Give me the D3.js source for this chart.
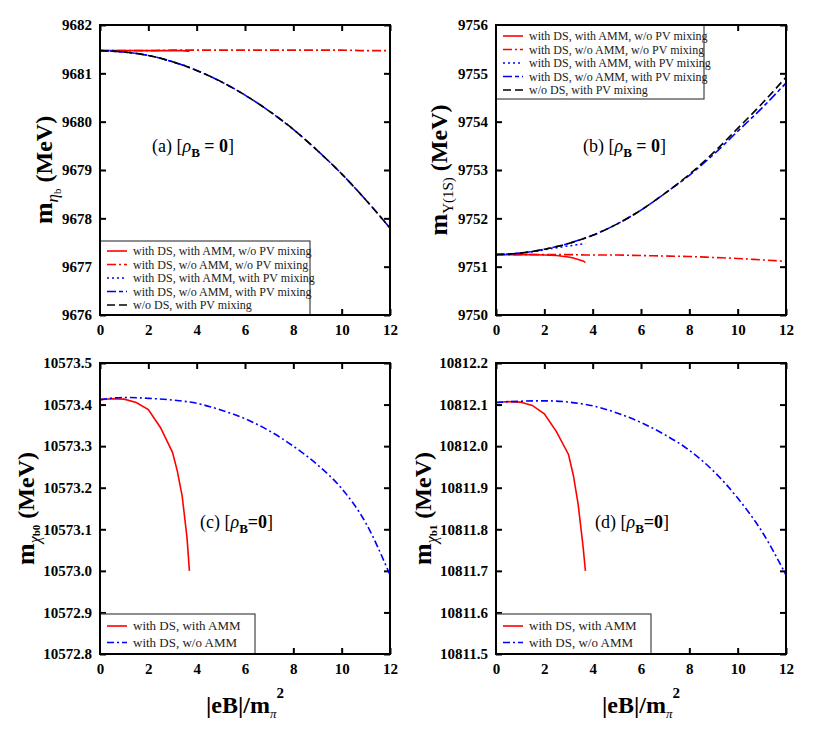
<!DOCTYPE html>
<html>
<head>
<meta charset="utf-8">
<script src="https://cdn.jsdelivr.net/npm/d3@7"></script>
<style>
  body { margin: 0; background: #fff; }
  svg { display: block; font-family: "Liberation Serif", "Times New Roman", serif; }
</style>
</head>
<body>
<svg width="830" height="755"></svg>
<script>
// x grids (|eB|/m_pi^2)
const xTicks = [0, 2, 4, 6, 8, 10, 12];
const xFull = [0, 1, 2, 3, 4, 5, 6, 7, 8, 9, 10, 11, 12];
const xAmm = [0, 0.5, 1, 1.5, 2, 2.5, 3, 3.2, 3.4, 3.6, 3.7];

// (a) eta_b
const etaAmmNoPV   = [9681.47, 9681.47, 9681.47, 9681.47, 9681.47, 9681.47, 9681.47, 9681.47, 9681.47, 9681.46, 9681.46];
const etaNoAmmNoPV = [9681.47, 9681.47, 9681.47, 9681.48, 9681.48, 9681.48, 9681.48, 9681.48, 9681.48, 9681.48, 9681.48, 9681.47, 9681.47];
const etaAmmPV     = [9681.47, 9681.46, 9681.44, 9681.41, 9681.37, 9681.31, 9681.24, 9681.21, 9681.18, 9681.14, 9681.12];
const etaNoAmmPV   = [9681.47, 9681.44, 9681.37, 9681.24, 9681.06, 9680.83, 9680.55, 9680.22, 9679.84, 9679.40, 9678.92, 9678.38, 9677.80];
const etaNoDsPV    = [9681.47, 9681.44, 9681.37, 9681.24, 9681.06, 9680.83, 9680.55, 9680.22, 9679.84, 9679.40, 9678.92, 9678.38, 9677.80];

// (b) Upsilon(1S)
const upsAmmNoPV   = [9751.25, 9751.25, 9751.25, 9751.25, 9751.24, 9751.23, 9751.20, 9751.18, 9751.15, 9751.12, 9751.09];
const upsNoAmmNoPV = [9751.25, 9751.25, 9751.25, 9751.25, 9751.24, 9751.24, 9751.23, 9751.22, 9751.21, 9751.19, 9751.17, 9751.14, 9751.11];
const upsAmmPV     = [9751.25, 9751.26, 9751.28, 9751.31, 9751.35, 9751.39, 9751.43, 9751.44, 9751.46, 9751.47, 9751.48];
const upsNoAmmPV   = [9751.25, 9751.28, 9751.36, 9751.48, 9751.65, 9751.88, 9752.17, 9752.52, 9752.89, 9753.32, 9753.80, 9754.28, 9754.80];
const upsNoDsPV    = [9751.25, 9751.28, 9751.36, 9751.48, 9751.65, 9751.88, 9752.17, 9752.52, 9752.91, 9753.36, 9753.86, 9754.37, 9754.92];

// (c) chi_b0
const chib0Amm   = [10573.412, 10573.414, 10573.413, 10573.405, 10573.388, 10573.345, 10573.285, 10573.240, 10573.180, 10573.080, 10573.000];
const chib0NoAmm = [10573.412, 10573.417, 10573.415, 10573.411, 10573.403, 10573.387, 10573.366, 10573.337, 10573.300, 10573.255, 10573.198, 10573.115, 10572.990];

// (d) chi_b1
const chib1Amm   = [10812.105, 10812.107, 10812.106, 10812.098, 10812.078, 10812.035, 10811.980, 10811.930, 10811.860, 10811.760, 10811.700];
const chib1NoAmm = [10812.105, 10812.108, 10812.109, 10812.106, 10812.097, 10812.080, 10812.057, 10812.027, 10811.990, 10811.940, 10811.875, 10811.795, 10811.690];

const legendTop = ["with DS, with AMM, w/o PV mixing", "with DS, w/o AMM, w/o PV mixing",
                   "with DS, with AMM, with PV mixing", "with DS, w/o AMM, with PV mixing",
                   "w/o DS, with PV mixing"];
const legendBottom = ["with DS, with AMM", "with DS, w/o AMM"];

const yTicksA = [9676, 9677, 9678, 9679, 9680, 9681, 9682];
const yTicksB = [9750, 9751, 9752, 9753, 9754, 9755, 9756];
const yTicksC = [10572.8, 10572.9, 10573.0, 10573.1, 10573.2, 10573.3, 10573.4, 10573.5];
const yTicksD = [10811.5, 10811.6, 10811.7, 10811.8, 10811.9, 10812.0, 10812.1, 10812.2];

// line styles
const sSolidRed = { color: "#ff0000", dash: null, smooth: false };
const sDashDotRed = { color: "#ff0000", dash: "9,3,2,3", smooth: true };
const sDotBlue = { color: "#0000ff", dash: "2,3", smooth: true };
const sDashBlue = { color: "#0000ff", dash: "9,3,4,3", smooth: true };
const sDashDotBlue = { color: "#0000ff", dash: "7,3,2,3", smooth: true };
const sDashBlack = { color: "#000000", dash: "8,4", smooth: true };

const svg = d3.select("svg");
const W = 290;

const panels = [
  { left: 100, top: 25, h: 290, yTicks: yTicksA, fmt: d3.format("d"),
    series: [[xAmm, etaAmmNoPV, sSolidRed], [xFull, etaNoAmmNoPV, sDashDotRed], [xAmm, etaAmmPV, sDotBlue],
             [xFull, etaNoAmmPV, sDashBlue], [xFull, etaNoDsPV, sDashBlack]],
    legend: { x: 0, y: 216, w: 210, h: 74, names: legendTop, styles: [sSolidRed, sDashDotRed, sDotBlue, sDashBlue, sDashBlack], fs: 12, step: 13.5, first: 10 },
    title: ["(a) [", "ρ", "B", " = 0", "]"], tx: 52, ty: 127,
    ylab: { x: 52, parts: [["m", 26, "bold", "normal", 0], ["η", 17, "normal", "italic", 6], ["b", 11, "normal", "normal", 3], [" (MeV)", 24, "bold", "normal", -9]] } },
  { left: 496, top: 25, h: 290, yTicks: yTicksB, fmt: d3.format("d"),
    series: [[xAmm, upsAmmNoPV, sSolidRed], [xFull, upsNoAmmNoPV, sDashDotRed], [xAmm, upsAmmPV, sDotBlue],
             [xFull, upsNoAmmPV, sDashBlue], [xFull, upsNoDsPV, sDashBlack]],
    legend: { x: 0, y: 0, w: 208, h: 74, names: legendTop, styles: [sSolidRed, sDashDotRed, sDotBlue, sDashBlue, sDashBlack], fs: 12, step: 13.5, first: 11 },
    title: ["(b) [", "ρ", "B", " = 0", "]"], tx: 87, ty: 127,
    ylab: { x: 447, parts: [["m", 26, "bold", "normal", 0], ["Υ(1S)", 15, "normal", "normal", 6], [" (MeV)", 24, "bold", "normal", -6]] } },
  { left: 100, top: 363, h: 291, yTicks: yTicksC, fmt: d3.format(".1f"),
    series: [[xAmm, chib0Amm, sSolidRed], [xFull, chib0NoAmm, sDashDotBlue]],
    legend: { x: 0, y: 251, w: 155, h: 40, names: legendBottom, styles: [sSolidRed, sDashDotBlue], fs: 13, step: 16.5, first: 12 },
    title: ["(c) [", "ρ", "B", "=0", "]"], tx: 100, ty: 165,
    ylab: { x: 34, parts: [["m", 26, "bold", "normal", 0], ["χ", 16, "normal", "italic", 6], ["b0", 11, "bold", "normal", 0], [" (MeV)", 24, "bold", "normal", -6]] } },
  { left: 496, top: 363, h: 291, yTicks: yTicksD, fmt: d3.format(".1f"),
    series: [[xAmm, chib1Amm, sSolidRed], [xFull, chib1NoAmm, sDashDotBlue]],
    legend: { x: 0, y: 251, w: 155, h: 40, names: legendBottom, styles: [sSolidRed, sDashDotBlue], fs: 13, step: 16.5, first: 12 },
    title: ["(d) [", "ρ", "B", "=0", "]"], tx: 99, ty: 165,
    ylab: { x: 431, parts: [["m", 26, "bold", "normal", 0], ["χ", 16, "normal", "italic", 6], ["b1", 11, "bold", "normal", 0], [" (MeV)", 24, "bold", "normal", -6]] } }
];

panels.forEach(p => {
  const g = svg.append("g").attr("transform", `translate(${p.left},${p.top})`);
  const x = d3.scaleLinear().domain([0, 12]).range([0, W]);
  const y = d3.scaleLinear().domain(d3.extent(p.yTicks)).range([p.h, 0]);

  const bottom = g.append("g").attr("transform", `translate(0,${p.h})`)
    .call(d3.axisBottom(x).tickValues(xTicks).tickSize(-6).tickPadding(9).tickFormat(d3.format("d")));
  const top = g.append("g").call(d3.axisTop(x).tickValues(xTicks).tickSize(-6).tickFormat(""));
  const left = g.append("g").call(d3.axisLeft(y).tickValues(p.yTicks).tickSize(-6).tickPadding(8).tickFormat(p.fmt));
  const right = g.append("g").attr("transform", `translate(${W},0)`)
    .call(d3.axisRight(y).tickValues(p.yTicks).tickSize(-6).tickFormat(""));
  [bottom, top, left, right].forEach(a => {
    a.attr("font-family", "Liberation Serif, Times New Roman, serif");
    a.select(".domain").remove();
    a.selectAll("line").attr("stroke", "#000").attr("stroke-width", 2);
    a.selectAll("text").attr("font-weight", "bold").attr("font-size", 15).attr("fill", "#000");
  });

  const clip = "clip" + p.left + p.top;
  g.append("clipPath").attr("id", clip).append("rect").attr("width", W).attr("height", p.h);

  p.series.forEach(([xs, ys, s]) => {
    const line = d3.line().x(d => x(d[0])).y(d => y(d[1]))
      .curve(s.smooth ? d3.curveMonotoneX : d3.curveLinear);
    g.append("path")
      .datum(xs.map((v, i) => [v, ys[i]]))
      .attr("clip-path", `url(#${clip})`)
      .attr("fill", "none")
      .attr("stroke", s.color)
      .attr("stroke-width", 1.6)
      .attr("stroke-dasharray", s.dash)
      .attr("d", line);
  });

  // legend
  const L = p.legend;
  const lg = g.append("g").attr("transform", `translate(${L.x},${L.y})`);
  lg.append("rect").attr("width", L.w).attr("height", L.h)
    .attr("fill", "#fff").attr("stroke", "#444").attr("stroke-width", 1.2);
  L.names.forEach((n, i) => {
    const yy = L.first + i * L.step;
    lg.append("line").attr("x1", 7).attr("x2", 27).attr("y1", yy).attr("y2", yy)
      .attr("stroke", L.styles[i].color).attr("stroke-width", 1.6)
      .attr("stroke-dasharray", L.styles[i].dash);
    lg.append("text").attr("x", 33).attr("y", yy + 4).attr("font-size", L.fs).attr("fill", "#222").text(n);
  });

  // frame
  g.append("rect").attr("width", W).attr("height", p.h)
    .attr("fill", "none").attr("stroke", "#000").attr("stroke-width", 2);

  // panel annotation
  const t = g.append("text").attr("x", p.tx).attr("y", p.ty).attr("font-size", 18).attr("fill", "#000");
  t.append("tspan").text(p.title[0]);
  t.append("tspan").attr("font-style", "italic").text(p.title[1]);
  t.append("tspan").attr("font-weight", "bold").attr("font-size", 13).attr("dy", 5).text(p.title[2]);
  t.append("tspan").attr("font-weight", "bold").attr("dy", -5).text(p.title[3]);
  t.append("tspan").text(p.title[4]);

  // y label (rotated)
  const cy = p.top + p.h / 2;
  const yl = svg.append("text")
    .attr("transform", `translate(${p.ylab.x},${cy}) rotate(-90)`)
    .attr("text-anchor", "middle").attr("fill", "#000");
  p.ylab.parts.forEach(([txt, fs, fw, fst, dy]) => {
    yl.append("tspan").attr("font-size", fs).attr("font-weight", fw).attr("font-style", fst)
      .attr("dy", dy).text(txt);
  });

  // x label under bottom panels
  if (p.top > 100) {
    const xl = svg.append("text").attr("x", p.left + W / 2).attr("y", 713)
      .attr("text-anchor", "middle").attr("font-weight", "bold").attr("fill", "#000");
    xl.append("tspan").attr("font-size", 24).text("|eB|/m");
    xl.append("tspan").attr("font-size", 13).attr("font-style", "italic").attr("font-weight", "normal").attr("dy", 5).text("π");
    xl.append("tspan").attr("font-size", 15).attr("dy", -20).text("2");
  }
});
</script>
</body>
</html>
